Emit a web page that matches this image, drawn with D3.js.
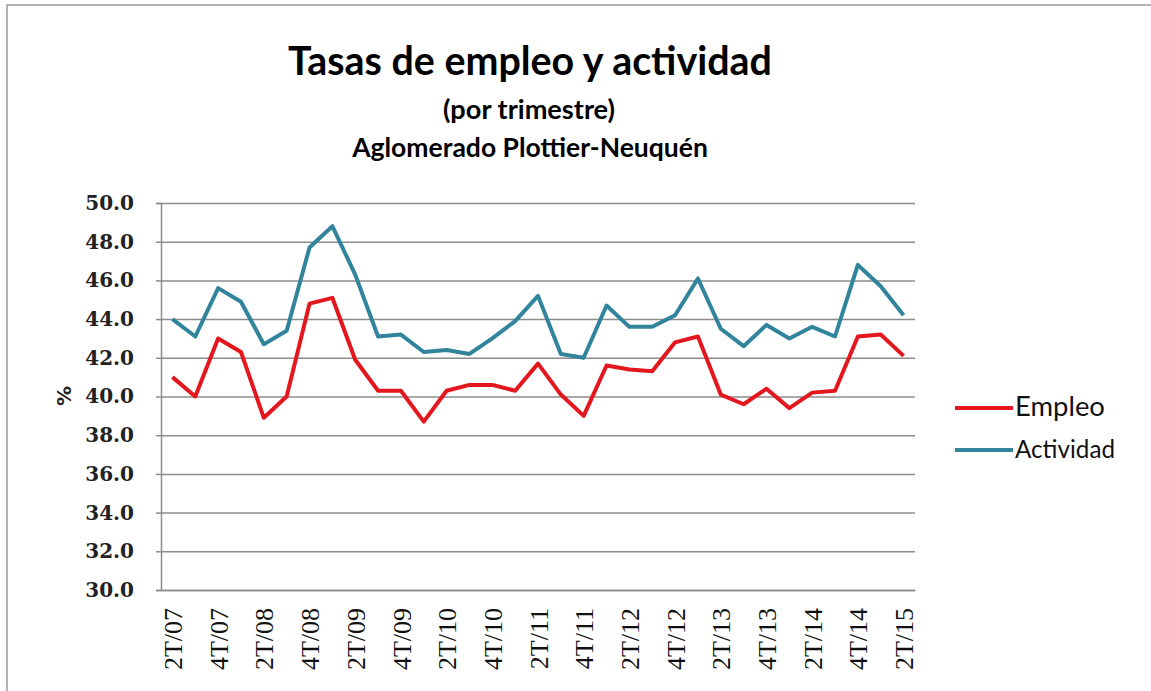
<!DOCTYPE html>
<html>
<head>
<meta charset="utf-8">
<script src="https://d3js.org/d3.v7.min.js"></script>
<style>
  body { margin: 0; background: #fff; }
</style>
</head>
<body>
<div id="viz"></div>
<script>
var width = 1151
var height = 691

// data
var quarters = ["2T/07","3T/07","4T/07","1T/08","2T/08","3T/08","4T/08","1T/09","2T/09","3T/09","4T/09",
	"1T/10","2T/10","3T/10","4T/10","1T/11","2T/11","3T/11","4T/11","1T/12","2T/12","3T/12","4T/12",
	"1T/13","2T/13","3T/13","4T/13","1T/14","2T/14","3T/14","4T/14","1T/15","2T/15"];

var empleo = [41.0,40.0,43.0,42.3,38.9,40.0,44.8,45.1,41.9,40.3,40.3,
	38.7,40.3,40.6,40.6,40.3,41.7,40.1,39.0,41.6,41.4,41.3,42.8,
	43.1,40.1,39.6,40.4,39.4,40.2,40.3,43.1,43.2,42.1];

var actividad = [44.0,43.1,45.6,44.9,42.7,43.4,47.7,48.8,46.3,43.1,43.2,
	42.3,42.4,42.2,43.0,43.9,45.2,42.2,42.0,44.7,43.6,43.6,44.2,
	46.1,43.5,42.6,43.7,43.0,43.6,43.1,46.8,45.7,44.2];

var xTickLabels = ["2T/07","4T/07","2T/08","4T/08","2T/09","4T/09","2T/10","4T/10","2T/11",
	"4T/11","2T/12","4T/12","2T/13","4T/13","2T/14","4T/14","2T/15"];

var yTicks = [30,32,34,36,38,40,42,44,46,48,50];

var seriesNames = ["Empleo","Actividad"];
var seriesColors = ["#e3171d","#31849b"];

var titleText = "Tasas de empleo y actividad";
var subtitle1 = "(por trimestre)";
var subtitle2 = "Aglomerado Plottier-Neuquén";

var plotLeft = 161, plotRight = 915, plotTop = 203, plotBottom = 590;

var canvas = d3.select("#viz")
	.append("svg")
	.attr("width",width)
	.attr("height",height);

// outer frame (only top and left edges visible)
canvas.append("rect")
	.attr("x",7).attr("y",5)
	.attr("width",width+20).attr("height",height+20)
	.attr("fill","none")
	.attr("stroke","#9a9a9a")
	.attr("stroke-width",1.5);

function fitWidth(sel, target){
	var size = +sel.attr("font-size");
	var w = sel.node().getComputedTextLength();
	sel.attr("font-size", size*target/w);
}

var t1 = canvas.append("text").text(titleText)
	.attr("x",530).attr("y",75)
	.attr("text-anchor","middle")
	.attr("font-family","Lato, 'Open Sans', sans-serif")
	.attr("font-weight","bold")
	.attr("font-size",44);
fitWidth(t1,484);

var t2 = canvas.append("text").text(subtitle1)
	.attr("x",529).attr("y",119)
	.attr("text-anchor","middle")
	.attr("font-family","Lato, 'Open Sans', sans-serif")
	.attr("font-weight","bold")
	.attr("font-size",22);
fitWidth(t2,172);

var t3 = canvas.append("text").text(subtitle2)
	.attr("x",530).attr("y",157)
	.attr("text-anchor","middle")
	.attr("font-family","Lato, 'Open Sans', sans-serif")
	.attr("font-weight","bold")
	.attr("font-size",22);
fitWidth(t3,356);

var xScale = d3.scalePoint()
	.domain(quarters)
	.range([plotLeft,plotRight])
	.padding(0.5);

var yScale = d3.scaleLinear()
	.domain([30,50])
	.range([plotBottom,plotTop]);

// gridlines
canvas.append("g")
	.attr("transform","translate("+plotLeft+",0)")
	.call(d3.axisLeft(yScale).tickValues(yTicks).tickSize(-(plotRight-plotLeft)).tickFormat(""))
	.call(function(g){
		g.select(".domain").remove();
		g.selectAll("line").attr("stroke","#8c8c8c").attr("stroke-width",1.5);
	});

// y axis
var yAxis = d3.axisLeft(yScale)
	.tickValues(yTicks)
	.tickSize(5)
	.tickPadding(22)
	.tickFormat(d3.format(".1f"));

canvas.append("g")
	.attr("transform","translate("+plotLeft+",0)")
	.call(yAxis)
	.call(function(g){
		g.select(".domain").attr("stroke","#8c8c8c").attr("stroke-width",1.5);
		g.selectAll("line").attr("stroke","#8c8c8c").attr("stroke-width",1.5);
		g.selectAll("text")
			.attr("font-family","'DejaVu Serif', serif")
			.attr("font-weight","bold")
			.attr("font-size",20)
			.attr("fill","#222");
	});

// x axis
var xAxis = d3.axisBottom(xScale)
	.tickValues(xTickLabels)
	.tickSize(0);

canvas.append("g")
	.attr("transform","translate(0,"+plotBottom+")")
	.call(xAxis)
	.call(function(g){
		g.select(".domain").attr("stroke","#8c8c8c").attr("stroke-width",1.5);
		g.selectAll("text")
			.attr("transform","rotate(-90)")
			.attr("text-anchor","end")
			.attr("x",-18)
			.attr("y",0)
			.attr("dy","0.35em")
			.attr("font-family","'Liberation Serif', serif")
			.attr("font-size",26)
			.attr("fill","#111");
	});

canvas.append("text")
	.text("%")
	.attr("transform","translate(64,396) rotate(-90)")
	.attr("text-anchor","middle")
	.attr("dy","0.35em")
	.attr("font-family","'DejaVu Sans', sans-serif")
	.attr("font-weight","bold")
	.attr("font-size",20)
	.attr("fill","#222");

var valueLine = d3.line()
	.x(function(d,i){return xScale(quarters[i]);})
	.y(function(d){return yScale(d);});

[empleo, actividad].forEach(function(s,i){
	canvas.append("path")
		.datum(s)
		.attr("d",valueLine)
		.attr("fill","none")
		.attr("stroke",seriesColors[i])
		.attr("stroke-width",4)
		.attr("stroke-linejoin","round");
});

// legend
var legendY = [408,450];
seriesNames.forEach(function(name,i){
	canvas.append("line")
		.attr("x1",955).attr("x2",1013)
		.attr("y1",legendY[i]).attr("y2",legendY[i])
		.attr("stroke",seriesColors[i])
		.attr("stroke-width",4);
	var lt = canvas.append("text")
		.text(name)
		.attr("x",1015)
		.attr("y",legendY[i]+8)
		.attr("font-family","Lato, 'Open Sans', sans-serif")
		.attr("font-size",21)
		.attr("fill","#111");
	fitWidth(lt, i === 0 ? 90 : 100);
});
</script>
</body>
</html>
